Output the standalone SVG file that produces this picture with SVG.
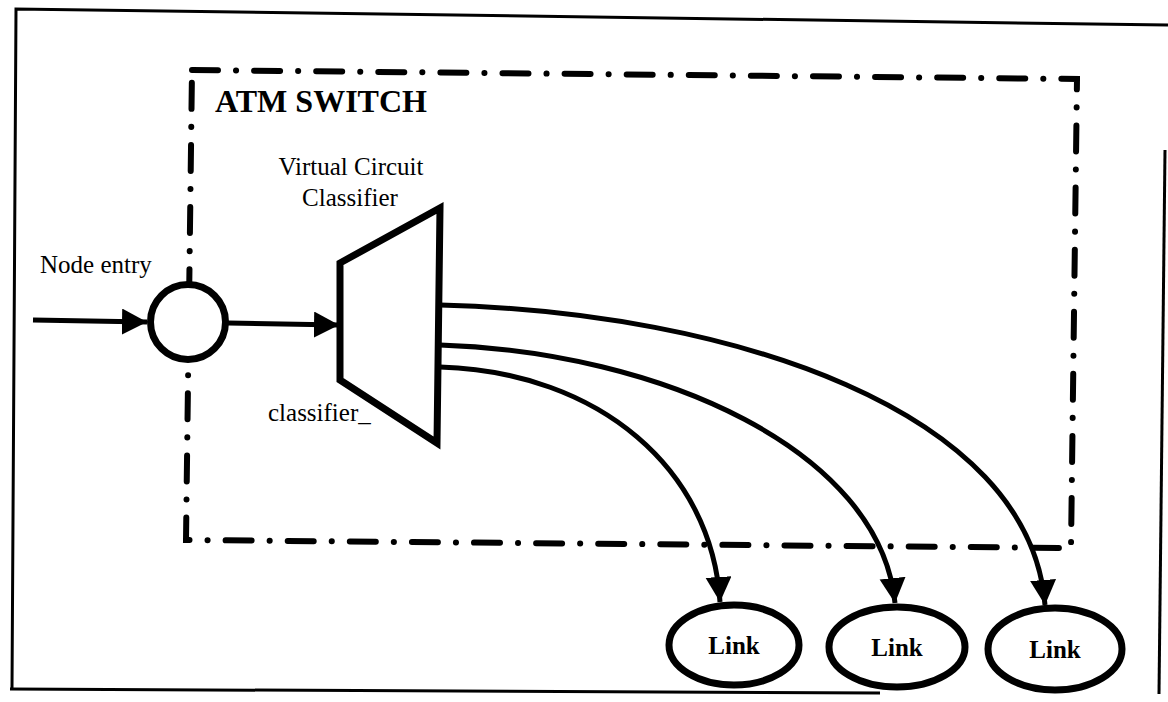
<svg xmlns="http://www.w3.org/2000/svg" width="1168" height="702" viewBox="0 0 1168 702">
<defs>
<style>
.frame{fill:none;stroke:#000;stroke-width:3}
.dashbox{fill:none;stroke:#000;stroke-width:6;stroke-linecap:round;stroke-dasharray:26 18 0.1 18}
.thick{fill:#fff;stroke:#000;stroke-width:7;stroke-linejoin:miter}
.conn{fill:none;stroke:#000;stroke-width:5}
.lbl{font-family:"Liberation Serif","Times New Roman",serif;fill:#000}
.oval{fill:#fff;stroke:#000;stroke-width:7}
.link{font-family:"Liberation Serif","Times New Roman",serif;font-weight:bold;font-size:25px;fill:#000;text-anchor:middle}
</style>
<marker id="arr" markerUnits="userSpaceOnUse" markerWidth="26" markerHeight="28" refX="25" refY="13" orient="auto">
<path d="M0,0 L25,13 L0,26 Z" fill="#000"/>
</marker>
</defs>
<g id="frame">
<path class="frame" d="M12,689 L16,9 L1168,25"/>
<path class="frame" d="M1165,150 L1159,694"/>
<path class="frame" d="M10,689 L880,693"/>
</g>
<g id="atm-switch">
<path class="dashbox" d="M192,70 L1077,79 L1071,548 L186,540 Z"/>
<text class="lbl" x="215" y="112" font-size="32" font-weight="bold" textLength="212" lengthAdjust="spacingAndGlyphs">ATM SWITCH</text>
</g>
<g id="connectors">
<line class="conn" x1="33" y1="320" x2="147" y2="322" marker-end="url(#arr)"/>
<line class="conn" x1="228" y1="323" x2="339" y2="325" marker-end="url(#arr)"/>
<path class="conn" d="M440,367 C600,372 712,470 720,602" marker-end="url(#arr)"/>
<path class="conn" d="M440,345 C660,352 880,450 895,603" marker-end="url(#arr)"/>
<path class="conn" d="M440,305 C730,312 1030,410 1045,605" marker-end="url(#arr)"/>
</g>
<g id="node-entry">
<circle class="thick" cx="188" cy="322" r="37.5"/>
<text class="lbl" x="40" y="273" font-size="25">Node entry</text>
</g>
<g id="classifier">
<path class="thick" d="M340,263 L440,208 L437,443 L340,380 Z"/>
<text class="lbl" x="351" y="175" font-size="25" text-anchor="middle">Virtual Circuit</text>
<text class="lbl" x="350" y="206" font-size="25" text-anchor="middle">Classifier</text>
<text class="lbl" x="268" y="421" font-size="25">classifier_</text>
</g>
<g id="link1">
<ellipse class="oval" cx="734" cy="645" rx="65" ry="40"/>
<text class="link" x="734" y="654">Link</text>
</g>
<g id="link2">
<ellipse class="oval" cx="897" cy="647" rx="68" ry="40"/>
<text class="link" x="897" y="656">Link</text>
</g>
<g id="link3">
<ellipse class="oval" cx="1055" cy="649" rx="67" ry="41"/>
<text class="link" x="1055" y="658">Link</text>
</g>
</svg>
